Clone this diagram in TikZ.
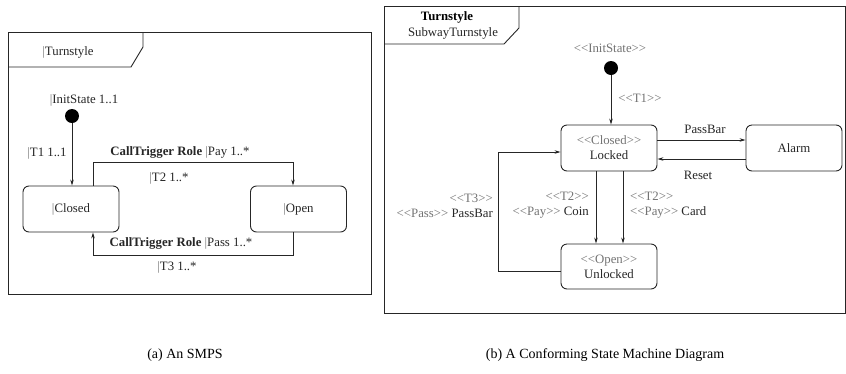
\documentclass[tikz,border=0pt]{standalone}
\usepackage{fontspec}
\setmainfont{Liberation Serif}
\usetikzlibrary{arrows.meta}
\definecolor{stcol}{gray}{0.45}
\definecolor{linecol}{gray}{0.15}
% stereotype brackets kept as two separate angle characters
\newcommand{\stereo}[1]{\textcolor{stcol}{<\kern0pt<#1>\kern0pt>}}
\newcommand{\vbar}{\textcolor{stcol}{|}}
\tikzset{
  txt/.style={font=\fontsize{12.8}{15}\selectfont, inner sep=0pt, text=black!85},
  captxt/.style={font=\fontsize{14}{16}\selectfont, inner sep=0pt},
  statebox/.style={draw=linecol, line width=0.9pt, rounded corners=6pt,
    minimum width=96pt, minimum height=46pt, align=center,
    font=\fontsize{12.8}{15}\selectfont, inner sep=0pt, text=black!85},
  initdot/.style={circle, fill=black, minimum size=14pt, inner sep=0pt},
  framebox/.style={draw=linecol, line width=0.9pt},
  arr/.style={draw=linecol, line width=0.8pt, -{Stealth[length=6pt,width=3.5pt]}},
}
\begin{document}
\begin{tikzpicture}[x=1pt,y=-1pt]
\useasboundingbox (0,0) rectangle (846,373);

% ---------- (a) SMPS ----------
\draw[framebox] (8,32) rectangle (371,294);
\draw[framebox] (8,67) -- (131,67) -- (143,47) -- (143,32);
\node[txt] (tabA) at (68,52) {\vbar Turnstyle};

\node[initdot] (initA) at (72,116) {};
\node[txt] (initAlbl) at (84,100) {\vbar InitState 1..1};
\node[statebox] (closedA) at (71,209) {\vbar Closed};
\node[statebox] (openA) at (298.5,209) {\vbar Open};

\draw[arr] (initA.south) -- (initA |- closedA.north);
\node[txt] (t1A) at (47,153) {\vbar T1 1..1};

\draw[arr] ([xshift=22pt]closedA.north) -- ++(0,-23) -| ([xshift=-5.5pt]openA.north);
\node[txt] (payA) at (180,152) {\textbf{CallTrigger Role} \vbar Pay 1..*};
\node[txt] (t2A) at (169,178) {\vbar T2 1..*};

\draw[arr] ([xshift=-5.5pt]openA.south) -- ++(0,23) -| ([xshift=22pt]closedA.south);
\node[txt] (passA) at (181,243) {\textbf{CallTrigger Role} \vbar Pass 1..*};
\node[txt] (t3A) at (177,267) {\vbar T3 1..*};

% ---------- (b) state machine diagram ----------
\draw[framebox] (384,6) rectangle (845,313);
\draw[framebox] (384,44) -- (504,44) -- (519,28) -- (519,6);
\node[txt, font=\fontsize{12.8}{15}\selectfont\bfseries, text=black] (tabB1) at (447,17) {Turnstyle};
\node[txt] (tabB2) at (453,33) {SubwayTurnstyle};

\node[initdot] (initB) at (611,68) {};
\node[txt] (initBlbl) at (610,48) {\stereo{InitState}};
\node[statebox] (locked) at (609,148) {\stereo{Closed}\\Locked};
\node[statebox] (alarm) at (794,148) {Alarm};
\node[statebox, minimum height=45pt] (unlocked) at (609,266.5) {\stereo{Open}\\Unlocked};

\draw[arr] (initB.south) -- (initB |- locked.north);
\node[txt] (t1B) at (640,98) {\stereo{T1}};

\draw[arr] ([yshift=8pt]locked.east) -- ([yshift=8pt]alarm.west);
\node[txt] (passbarB) at (705,129) {PassBar};
\draw[arr] ([yshift=-11pt]alarm.west) -- ([yshift=-11pt]locked.east);
\node[txt] (resetB) at (698,175) {Reset};

\draw[arr] ([xshift=-13pt]locked.south) -- ([xshift=-13pt]unlocked.north);
\draw[arr] ([xshift=14pt]locked.south) -- ([xshift=14pt]unlocked.north);
\node[txt, align=right, anchor=east] (coinB) at (589,205.5) {\stereo{T2}\\\stereo{Pay} Coin};
\node[txt, align=left, anchor=west] (cardB) at (630,205.5) {\stereo{T2}\\\stereo{Pay} Card};

\draw[arr] ([yshift=-4.5pt]unlocked.west) -- ++(-62,0) |- ([yshift=-4pt]locked.west);
\node[txt, align=right, anchor=east] (passB) at (493,205.5) {\stereo{T3}\\\stereo{Pass} PassBar};

% ---------- captions ----------
\node[captxt] (capA) at (185,355) {(a) An SMPS};
\node[captxt] (capB) at (605,355) {(b) A Conforming State Machine Diagram};
\end{tikzpicture}
\end{document}
